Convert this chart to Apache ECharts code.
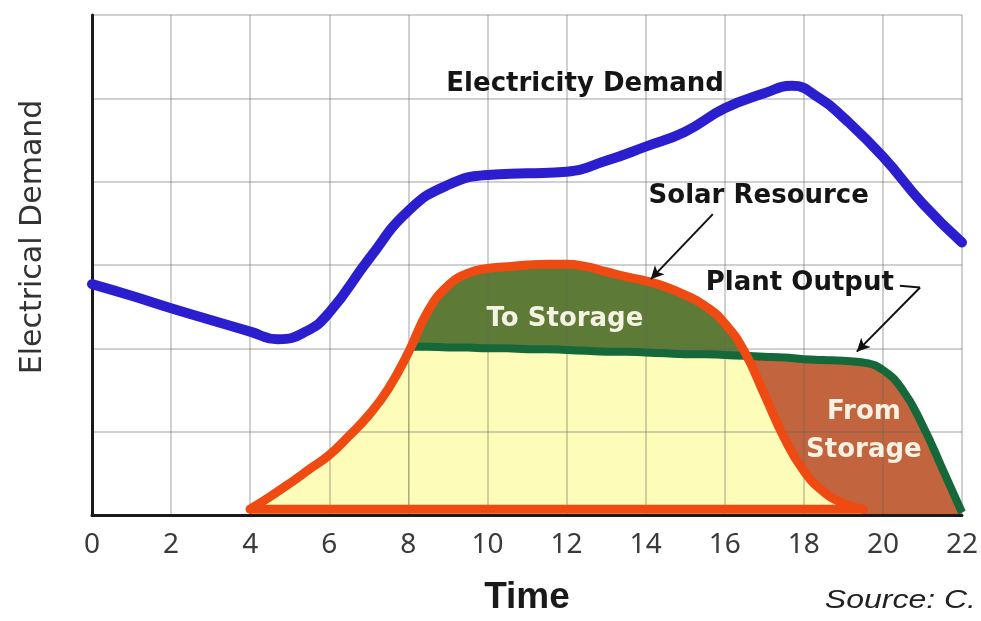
<!DOCTYPE html>
<html><head><meta charset="utf-8">
<script src="https://cdn.jsdelivr.net/npm/echarts@6/dist/echarts.min.js"></script>
<style>html,body{margin:0;padding:0;background:#fff}#c{width:981px;height:621px}</style>
</head><body><div id="c"></div>
<script>
// ---- data (hours, relative demand units) ----
const xTickLabels = ['0','2','4','6','8','10','12','14','16','18','20','22'];
const demandHours = [0,1,2,3,4,4.7,5.4,6,7,8,9,10,11,12,13,14,15,16,17,17.7,18.4,19,20,21,22];
const demandVals  = [2.77,2.63,2.48,2.34,2.2,2.11,2.2,2.43,3.07,3.65,3.96,4.08,4.1,4.12,4.25,4.42,4.6,4.88,5.06,5.15,5.0,4.77,4.3,3.74,3.27];
const solarHours = [4,4.5,5,5.5,6,6.5,7,7.5,8,8.5,9,9.5,10,10.5,11,11.5,12,12.5,13,13.5,14,14.5,15,15.5,16,16.5,17,17.5,18,18.5,19,19.5];
const solarVals  = [0.07,0.22,0.38,0.55,0.72,0.95,1.2,1.52,1.95,2.45,2.75,2.9,2.96,2.98,3.0,3.01,3.01,2.98,2.92,2.86,2.81,2.74,2.64,2.51,2.3,1.96,1.45,0.93,0.53,0.28,0.14,0.07];
const solarBaseHours = [4,19.5];
const solarBaseVals  = [0.07,0.07];
const plantHours = [8,8.5,9,9.5,10,10.5,11,11.5,12,12.5,13,13.5,14,14.5,15,15.5,16,16.5,17,17.5,18,18.5,19,19.5,20,20.5,21,21.5,22];
const plantVals  = [2.02,2.02,2.01,2.01,2.0,2.0,1.99,1.99,1.98,1.97,1.96,1.96,1.95,1.94,1.93,1.93,1.92,1.91,1.9,1.89,1.87,1.86,1.85,1.83,1.74,1.5,1.08,0.56,0.03];
const plantStart = 8;      // hour plant output begins
const crossover = 16.55;   // hour solar falls below plant output
const notes = [
  {text:'Electricity Demand', x:12.47, y:5.17, white:false},
  {text:'Solar Resource', x:16.86, y:3.82, white:false},
  {text:'Plant Output', x:17.9, y:2.78, white:false},
  {text:'To Storage', x:11.96, y:2.35, white:true},
  {text:'From', x:19.52, y:1.23, white:true},
  {text:'Storage', x:19.52, y:0.78, white:true}
];
const arrows = [
  [[15.7,3.61],[14.13,2.83],true],
  [[20.43,2.75],[20.94,2.73],false],
  [[20.94,2.73],[19.34,1.96],true]
];

const zip = (xs, ys) => xs.map((x, i) => [x, ys[i]]);
const demand = zip(demandHours, demandVals);
const solar = zip(solarHours, solarVals);
const solarBase = zip(solarBaseHours, solarBaseVals);
const plant = zip(plantHours, plantVals);

const YELLOW='#fdfcb8', OLIVE='#5e7a37', BROWN='#c2643d', ORANGE='#ef4a12', GREEN='#15683a', BLUE='#2a1ecf';
const CLEAR='rgba(255,255,255,0)';
const SM = 0.5, SM_DEMAND = 0.5;
const chart = echarts.init(document.getElementById('c'));
const fillBase = {type:'line', z:1, smooth:SM, showSymbol:false, silent:true, lineStyle:{width:0, opacity:0}, areaStyle:{opacity:1}};
const gridLine = {show:true, lineStyle:{color:'rgba(100,100,100,0.3)', width:2}};
chart.setOption({
  animation:false,
  grid:{left:92, right:19, top:15, bottom:104},
  xAxis:{type:'value', min:0, max:22, interval:2, z:2,
    axisLine:{lineStyle:{color:'#1a1a1a', width:3}}, axisTick:{show:false},
    axisLabel:{color:'#3a3a3a', fontSize:28, fontFamily:'Noto Sans', margin:16, formatter:(v)=>xTickLabels[Math.round(v/2)]},
    splitLine:gridLine,
    name:'Time', nameLocation:'middle', nameGap:64,
    nameTextStyle:{fontSize:37, fontWeight:'bold', fontFamily:'Liberation Sans', color:'#1a1a1a'}},
  yAxis:{type:'value', min:0, max:6, interval:1, z:2,
    axisLine:{show:true, lineStyle:{color:'#1a1a1a', width:3}}, axisTick:{show:false}, axisLabel:{show:false},
    splitLine:gridLine},
  visualMap:[
    {type:'piecewise', show:false, seriesIndex:1, dimension:0,
      pieces:[{lt:plantStart, color:YELLOW},{gte:plantStart, lt:crossover, color:OLIVE},{gte:crossover, color:YELLOW}]},
    {type:'piecewise', show:false, seriesIndex:2, dimension:0,
      pieces:[{lt:plantStart, color:YELLOW},{gte:plantStart, lt:crossover, color:YELLOW},{gte:crossover, color:CLEAR}]}
  ],
  graphic:[
    {type:'text', x:33, y:237, rotation:Math.PI/2, z:10,
      style:{text:'Electrical Demand', font:'30px "DejaVu Sans"', fill:'#333', align:'center', verticalAlign:'middle'}},
    {type:'text', x:976, y:601, scaleX:1.28, z:10,
      style:{text:'Source: C.', font:'italic 25px "Liberation Sans"', fill:'#222', align:'right', verticalAlign:'middle'}}
  ],
  series:[
    Object.assign({}, fillBase, {data:plant, areaStyle:{opacity:1, color:BROWN}}),
    Object.assign({}, fillBase, {data:solar}),
    Object.assign({}, fillBase, {data:plant}),
    {type:'line', z:3, data:plant, smooth:SM, showSymbol:false, silent:true, lineStyle:{color:GREEN, width:8}},
    {type:'line', z:3, data:solar, smooth:SM, showSymbol:false, silent:true, lineStyle:{color:ORANGE, width:9, cap:'round', join:'round'}},
    {type:'line', z:3, data:solarBase, showSymbol:false, silent:true, lineStyle:{color:ORANGE, width:9, cap:'round'}},
    {type:'line', z:3, data:demand, smooth:SM_DEMAND, showSymbol:false, silent:true, lineStyle:{color:BLUE, width:10, cap:'round'},
      markLine:{silent:true, animation:false, lineStyle:{color:'#111', width:2, type:'solid'}, label:{show:false}, symbolSize:[10,13],
        data: arrows.map(a=>[{coord:a[0], symbol:'none'},{coord:a[1], symbol:a[2]?'arrow':'none'}])},
      markPoint:{silent:true, animation:false, symbol:'circle', symbolSize:0,
        data: notes.map(n=>({name:n.text, coord:[n.x,n.y],
          label:{show:true, position:'inside', formatter:n.text, fontFamily:'DejaVu Sans', fontWeight:'bold', fontSize:26,
            color: n.white ? '#f4f2e2' : '#151515'}}))}}
  ]
});
</script></body></html>
